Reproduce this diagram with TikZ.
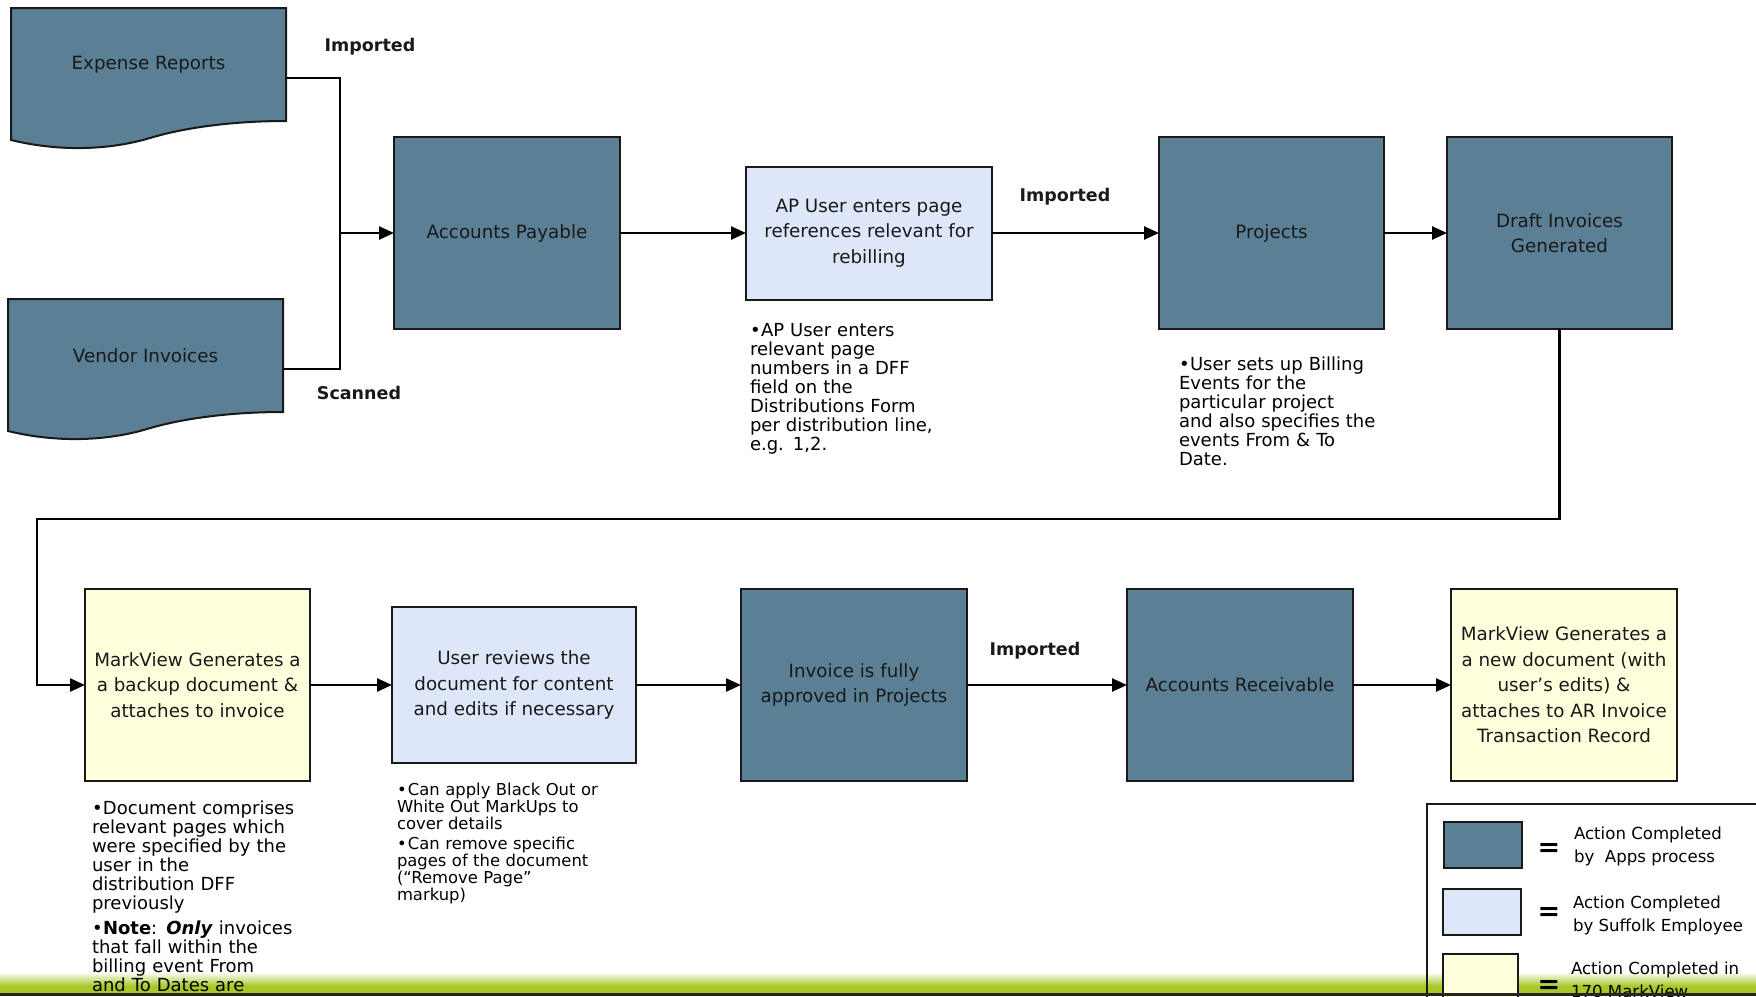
\documentclass[tikz,border=0pt]{standalone}
\usepackage{fontspec}
\setmainfont{DejaVu Sans}
\usetikzlibrary{positioning,calc,arrows.meta}
\definecolor{mysteel}{RGB}{91,127,149}
\definecolor{mylightblue}{RGB}{222,230,250}
\definecolor{myyellow}{RGB}{255,255,222}
\definecolor{mylime}{RGB}{166,200,40}
\definecolor{myink}{RGB}{25,25,25}
\pgfdeclarelayer{background}
\pgfsetlayers{background,main}
\newcommand\boxfont{\fontsize{18.3}{25.5}\selectfont}
\newcommand\notefont{\fontsize{18}{19}\selectfont}
\newcommand\smallnotefont{\fontsize{16.4}{17}\selectfont}
\newcommand\lblfont{\fontsize{17.5}{20}\selectfont\bfseries}
\newcommand\keyfont{\fontsize{16.6}{23}\selectfont}
% one bullet point with hanging indent
\newcommand\bul[1]{\par\hangindent=11pt\hangafter=1\noindent\hbox to 11pt{\textbullet\hss}#1\par}
% outline of a document shape round a node
\newcommand\docshape[1]{
    \begin{pgfonlayer}{background}
        \draw[line width=2pt,draw=myink,fill=mysteel]
            (#1.north west) -- (#1.north east) -- (#1.south east)
            .. controls ([shift={(-46,0)}]#1.south east) and ([shift={(-96,5)}]#1.south east)
            .. ([shift={(-136,17)}]#1.south east)
            .. controls ([shift={(-176,29)}]#1.south east) and ([shift={(-226,31)}]#1.south east)
            .. ([shift={(0,19)}]#1.south west) -- cycle;
    \end{pgfonlayer}
}
\begin{document}
\begin{tikzpicture}[x=1pt,y=-1pt,outer sep=0pt,
            appsb/.style={
                draw=myink,
                line width=2pt,
                fill=mysteel,
                text=myink,
                font=\boxfont,
                align=center,
                inner sep=2pt,
                minimum width=226pt,
            minimum height=192pt},
            userb/.style={appsb,fill=mylightblue},
            mvb/.style={appsb,fill=myyellow},
            docb/.style={text=myink,font=\boxfont,minimum width=275pt,minimum height=113pt},
            note/.style={inner sep=0pt,anchor=north west,text width=250pt,font=\notefont},
            flow/.style={line width=2.5pt,draw=black},
            arrow/.style={flow,-{Triangle[length=15pt,width=13pt]}},
            lbl/.style={font=\lblfont,text=myink},
            keyb/.style={draw=myink,line width=2pt,minimum width=78pt,minimum height=46pt},
        ]
        \clip (0,0) rectangle (1756,996);

        % footer bar
        \begin{pgfonlayer}{background}
            \shade[top color=white,bottom color=mylime] (0,972) rectangle (1756,986);
            \fill[mylime] (0,986) rectangle (1756,993);
        \end{pgfonlayer}

        % first row
        \node[docb] (Expense) at (148.5,64.5) {Expense Reports};
        \docshape{Expense}
        \node[docb] (Vendor) at (145.5,355.5) {Vendor Invoices};
        \docshape{Vendor}

        \node[appsb] (AP) at (507,233) {Accounts Payable};
        \node[userb,minimum width=246pt,minimum height=133pt,right=126pt of AP] (APUser)
            {AP User enters page\\references relevant for\\rebilling};
        \node[appsb,minimum width=225pt,right=167pt of APUser] (Proj) {Projects};
        \node[appsb,minimum width=225pt,right=63pt of Proj] (Draft) {Draft Invoices\\Generated};

        % second row
        \node[mvb,minimum width=225pt] (MVbackup) at (197.5,685) {MarkView Generates a\\a backup document \&\\attaches to invoice};
        \node[userb,minimum width=244pt,minimum height=156pt,right=82pt of MVbackup] (Review)
            {User reviews the\\document for content\\and edits if necessary};
        \node[appsb,right=105pt of Review] (Approved) {Invoice is fully\\approved in Projects};
        \node[appsb,right=160pt of Approved] (AR) {Accounts Receivable};
        \node[mvb,right=98pt of AR] (MVnew)
            {MarkView Generates a\\a new document (with\\user’s edits) \&\\attaches to AR Invoice\\Transaction Record};

        % connectors
        \coordinate (join) at (340,233);
        \draw[flow] ([yshift=-13.5pt]Expense.east) -| (join);
        \draw[flow] ([yshift=-13.5pt]Vendor.east) -| (join);
        \draw[arrow] (join) -- (AP);
        \draw[arrow] (AP) -- (APUser);
        \draw[arrow] (APUser) -- (Proj);
        \draw[arrow] (Proj) -- (Draft);
        \coordinate (turn) at (37,519);
        \draw[arrow] (Draft.south) |- (turn) |- (MVbackup.west);
        \draw[arrow] (MVbackup) -- (Review);
        \draw[arrow] (Review) -- (Approved);
        \draw[arrow] (Approved) -- (AR);
        \draw[arrow] (AR) -- (MVnew);

        \node[lbl] (ImpExp) at (370,47) {Imported};
        \node[lbl] (ScanVen) at (359,393) {Scanned};
        \node[lbl] (ImpAP) at (1065,197) {Imported};
        \node[lbl] (ImpAR) at (1035,651) {Imported};

        % notes
        \node[note] (APnote) at (750,317) {\raggedright
            \bul{AP User enters\\relevant page\\numbers in a DFF\\field on the\\Distributions Form\\per distribution line,\\e.g. 1,2.}};
        \node[note] (Projnote) at (1179,351) {\raggedright
            \bul{User sets up Billing\\Events for the\\particular project\\and also specifies the\\events From \& To\\Date.}};
        \node[note] (MVnote) at (92,795) {\raggedright
            \bul{Document comprises\\relevant pages which\\were specified by the\\user in the\\distribution DFF\\previously}
            \vspace{6pt}
            \bul{\textbf{Note}: \textbf{\textit{Only}} invoices\\that fall within the\\billing event From\\and To Dates are}};
        \node[note,font=\smallnotefont] (Reviewnote) at (397,778) {\raggedright
            \bul{Can apply Black Out or\\White Out MarkUps to\\cover details}
            \vspace{3pt}
            \bul{Can remove specific\\pages of the document\\(“Remove Page”\\markup)}};

        % legend
        \draw[line width=2pt,draw=myink] (1427,1010) -- (1427,804) -- (1770,804);
        \node[keyb,fill=mysteel] (KeyApps) at (1483,844.5) {};
        \node[keyb,fill=mylightblue] (KeyUser) at (1481.5,911.5) {};
        \node[keyb,fill=myyellow,minimum width=75pt,minimum height=60pt] (KeyMV) at (1480.5,984) {};
        \foreach \y/\n in {850/EqApps,914/EqUser,987/EqMV}
            \node[font=\fontsize{27}{27}\selectfont\bfseries] (\n) at (1549,\y) {=};
        \node[font=\keyfont,align=left,anchor=west,inner sep=0pt] (TxtApps) at (1574,846)
            {Action Completed\\by\ \ Apps process};
        \node[font=\keyfont,align=left,anchor=west,inner sep=0pt] (TxtUser) at (1573,915)
            {Action Completed\\by Suffolk Employee};
        \node[font=\keyfont,align=left,anchor=west,inner sep=0pt] (TxtMV) at (1571,980)
            {Action Completed in\\170 MarkView};

        \fill[black!85] (0,993) rectangle (1756,996);
    \end{tikzpicture}
\end{document}
